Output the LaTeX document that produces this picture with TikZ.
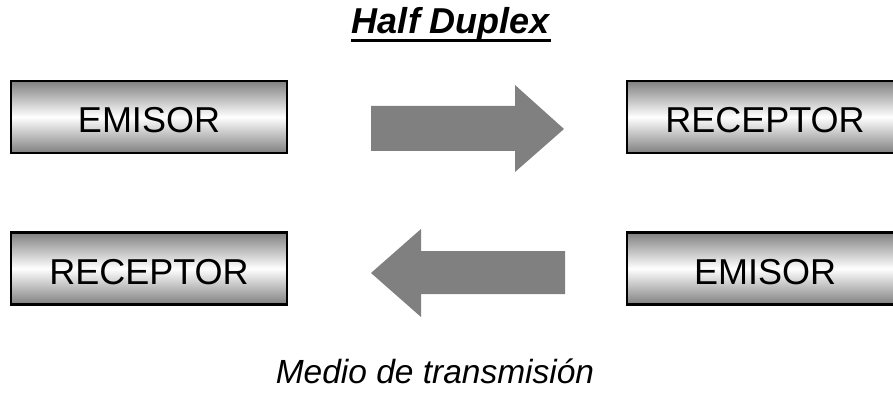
\documentclass[tikz,border=0pt]{standalone}
\usepackage{fontspec}
\setmainfont{Liberation Sans}

\tikzset{
  bloque/.style={rectangle, draw, line width=2.5pt, minimum width=276pt, minimum height=72pt,
    inner sep=0pt, text height=32pt, text depth=0pt,
    top color=black!50, bottom color=black!50, middle color=white,
    font=\fontsize{36}{40}\selectfont},
  flecha/.style={fill=black!50}
}

\begin{document}
\begin{tikzpicture}[x=1pt, y=-1pt]
    \useasboundingbox (0,0) rectangle (893,398);
    \clip (0,0) rectangle (893,398);

    \node[font=\fontsize{36}{40}\selectfont\bfseries\itshape, anchor=base, inner xsep=1pt] (titulo) at (451,34) {Half Duplex};
    \draw[line width=3pt] ([yshift=-6.5pt]titulo.base west) -- ([yshift=-6.5pt]titulo.base east);

    \node[bloque] (emisor1) at (149,117) {EMISOR};
    \node[bloque] (receptor1) at (765,117) {RECEPTOR};
    \node[bloque] (receptor2) at (149,268.5) {RECEPTOR};
    \node[bloque] (emisor2) at (765,268.5) {EMISOR};

    % flechas
    \fill[flecha] (371,106) -- (515,106) -- (515,85) -- (564,129) -- (515,172) -- (515,151) -- (371,151) -- cycle;
    \fill[flecha] (565,251) -- (421,251) -- (421,229) -- (371,273) -- (421,317) -- (421,294) -- (565,294) -- cycle;

    \node[font=\fontsize{33.5}{38}\selectfont\itshape, anchor=base] (medio) at (435,383) {Medio de transmisión};
\end{tikzpicture}
\end{document}
